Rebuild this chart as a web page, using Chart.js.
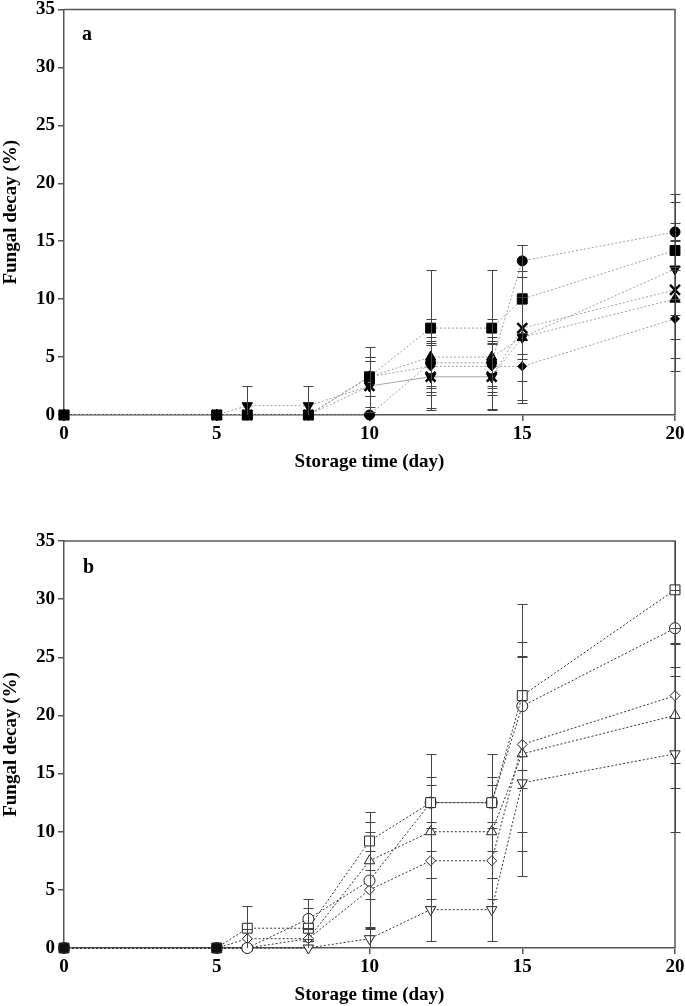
<!DOCTYPE html>
<html lang="en">
<head>
<meta charset="UTF-8">
<title>Fungal decay</title>
<script src="https://cdn.jsdelivr.net/npm/chart.js"></script>
<style>
    body {
        margin: 0;
        padding: 0;
        width: 685px;
        height: 1006px;
        overflow: hidden;
        background: #fff;
        position: relative;
        font-family: "Liberation Serif", "Times New Roman", serif;
    }
    .panel {
        position: absolute;
        left: 0;
        width: 685px;
    }
    #wrapA { top: 0; height: 473px; }
    #wrapB { top: 500px; height: 506px; }
    .tag {
        position: absolute;
        font-weight: bold;
        font-size: 20px;
        line-height: 20px;
    }
</style>
</head>
<body>

<div class="panel" id="wrapA"><canvas id="chartA"></canvas></div>
<div class="panel" id="wrapB"><canvas id="chartB"></canvas></div>
<div class="tag" style="left:82px; top:23px;">a</div>
<div class="tag" style="left:83px; top:556px;">b</div>

<script>
// storage days (shared x values)
const days = [0, 5, 6, 8, 10, 12, 14, 15, 20];
const xTicks = [0, 5, 10, 15, 20];
const yTicks = [0, 5, 10, 15, 20, 25, 30, 35];

// panel a (filled markers)
const aSquare      = [0, 0, 0,   0,   3.3, 7.5, 7.5, 10.0, 14.2];
const aSquareSd    = [0, 0, 0,   0,   2.6, 5.0, 5.0, 4.7,  4.2];
const aCircle      = [0, 0, 0,   0,   0,   4.5, 4.5, 13.3, 15.8];
const aCircleSd    = [0, 0, 0,   0,   0,   2.2, 2.2, 1.4,  3.3];
const aTriDown     = [0, 0, 0.8, 0.8, 2.5, 3.3, 3.3, 6.7,  12.6];
const aTriDownSd   = [0, 0, 1.7, 1.7, 2.2, 2.9, 2.9, 5.7,  4.0];
const aCross       = [0, 0, 0,   0,   2.5, 3.3, 3.3, 7.5,  10.8];
const aCrossSd     = [0, 0, 0,   0,   2.2, 2.7, 2.8, 2.7,  4.2];
const aTriUp       = [0, 0, 0,   0,   3.3, 5.0, 5.0, 6.7,  10.0];
const aTriUpSd     = [0, 0, 0,   0,   1.7, 3.3, 3.3, 3.8,  5.1];
const aDiamond     = [0, 0, 0,   0,   3.3, 4.2, 4.2, 4.2,  8.3];
const aDiamondSd   = [0, 0, 0,   0,   1.7, 2.2, 2.2, 2.9,  4.5];

// panel b (open markers)
const bSquare      = [0, 0, 1.7, 1.7, 9.2, 12.5, 12.5, 21.7, 30.8];
const bSquareSd    = [0, 0, 1.9, 1.7, 2.5, 4.2,  4.2,  7.9,  4.7];
const bCircle      = [0, 0, 0,   2.5, 5.8, 12.5, 12.5, 20.8, 27.5];
const bCircleSd    = [0, 0, 0,   1.7, 4.2, 2.2,  2.2,  5.5,  3.3];
const bDiamond     = [0, 0, 0.8, 0.8, 5.0, 7.5,  7.5,  17.5, 21.7];
const bDiamondSd   = [0, 0, 0.8, 0.9, 3.3, 3.3,  3.3,  7.5,  5.8];
const bTriUp       = [0, 0, 0,   0.8, 7.5, 10.0, 10.0, 16.7, 20.0];
const bTriUpSd     = [0, 0, 0,   0.8, 3.3, 4.0,  4.0,  8.4,  6.2];
const bTriDown     = [0, 0, 0,   0,   0.8, 3.3,  3.3,  14.2, 16.7];
const bTriDownSd   = [0, 0, 0,   0,   1.0, 2.7,  2.7,  8.0,  6.7];

const font = { family: '"Liberation Serif", "Times New Roman", serif', size: 19, weight: 'bold' };
const axisColor = '#555';

// vertical error bars with caps, drawn from each dataset's "errors"
const errorBars = {
    id: 'errorBars',
    afterDatasetsDraw(chart) {
        const { ctx, chartArea, scales: { x, y } } = chart;
        ctx.save();
        ctx.beginPath();
        ctx.rect(chartArea.left - 6, chartArea.top, chartArea.width + 12, chartArea.height);
        ctx.clip();
        ctx.strokeStyle = '#444';
        ctx.lineWidth = 1;
        chart.data.datasets.forEach(ds => {
            ds.data.forEach((p, i) => {
                const sd = ds.errors[i];
                if (!sd) return;
                const px = Math.round(x.getPixelForValue(p.x)) + 0.5;
                const top = Math.round(y.getPixelForValue(p.y + sd)) + 0.5;
                const bot = Math.round(y.getPixelForValue(p.y - sd)) + 0.5;
                ctx.beginPath();
                ctx.moveTo(px, top); ctx.lineTo(px, bot);
                ctx.moveTo(px - 5, top); ctx.lineTo(px + 5, top);
                ctx.moveTo(px - 5, bot); ctx.lineTo(px + 5, bot);
                ctx.stroke();
            });
        });
        ctx.restore();
    }
};

// top and right edges of the frame
const frame = {
    id: 'frame',
    beforeDatasetsDraw(chart) {
        const { ctx, chartArea: a } = chart;
        ctx.save();
        ctx.strokeStyle = axisColor;
        ctx.lineWidth = 1.5;
        ctx.beginPath();
        ctx.moveTo(a.left, a.top);
        ctx.lineTo(a.right, a.top);
        ctx.lineTo(a.right, a.bottom);
        ctx.stroke();
        ctx.restore();
    }
};

function series(values, sd, style, opts) {
    return Object.assign({
        data: values.map((v, i) => ({ x: days[i], y: v })),
        errors: sd,
        pointStyle: style,
        borderWidth: 1,
        pointBorderWidth: 1,
        tension: 0,
        clip: false
    }, opts);
}

function makeChart(id, datasets, padTop) {
    return new Chart(document.getElementById(id), {
        type: 'line',
        data: { datasets: datasets },
        options: {
            responsive: true,
            maintainAspectRatio: false,
            animation: false,
            events: [],
            layout: { padding: { top: padTop, right: 10, left: 0, bottom: 0 } },
            plugins: { legend: { display: false }, tooltip: { enabled: false } },
            scales: {
                x: {
                    type: 'linear',
                    min: 0, max: 20,
                    afterFit: s => { s.height = 58; s.paddingLeft = 0; s.paddingRight = 0; },
                    afterBuildTicks: s => { s.ticks = xTicks.map(v => ({ value: v })); },
                    grid: { drawOnChartArea: false, tickLength: 6, color: axisColor, lineWidth: 1.5 },
                    border: { color: axisColor, width: 1.5 },
                    ticks: { color: '#000', font: font, padding: 2, maxRotation: 0 },
                    title: { display: true, text: 'Storage time (day)', color: '#000', font: font, padding: 0 }
                },
                y: {
                    min: 0, max: 35,
                    afterFit: s => { s.width = 64; s.paddingTop = 0; s.paddingBottom = 0; },
                    afterBuildTicks: s => { s.ticks = yTicks.map(v => ({ value: v })); },
                    grid: { drawOnChartArea: false, tickLength: 6, color: axisColor, lineWidth: 1.5 },
                    border: { color: axisColor, width: 1.5 },
                    ticks: { color: '#000', font: font, padding: 3 },
                    title: { display: true, text: 'Fungal decay (%)', color: '#000', font: font, padding: 0 }
                }
            }
        },
        plugins: [frame, errorBars]
    });
}

const lineA = { borderColor: '#a0a0a0', borderDash: [2, 2], pointBackgroundColor: '#000', pointBorderColor: '#000' };
makeChart('chartA', [
    series(aSquare, aSquareSd, 'rect', Object.assign({ pointRadius: 7 }, lineA)),
    series(aCircle, aCircleSd, 'circle', Object.assign({ pointRadius: 5 }, lineA)),
    series(aTriDown, aTriDownSd, 'triangle', Object.assign({ pointRadius: 6, pointRotation: 180 }, lineA)),
    series(aCross, aCrossSd, 'crossRot', Object.assign({ pointRadius: 7, pointBorderWidth: 2.5 }, lineA)),
    series(aTriUp, aTriUpSd, 'triangle', Object.assign({ pointRadius: 6 }, lineA)),
    series(aDiamond, aDiamondSd, 'rectRot', Object.assign({ pointRadius: 4.5 }, lineA))
], 8);

const lineB = { borderColor: '#333', borderDash: [2, 2], pointBackgroundColor: '#fff', pointBorderColor: '#222' };
makeChart('chartB', [
    series(bSquare, bSquareSd, 'rect', Object.assign({}, lineB, {
        pointRadius: 7,
        pointBackgroundColor: c => (c.parsed && c.parsed.x <= 5) ? '#111' : '#fff'
    })),
    series(bCircle, bCircleSd, 'circle', Object.assign({ pointRadius: 5.5 }, lineB)),
    series(bDiamond, bDiamondSd, 'rectRot', Object.assign({ pointRadius: 5 }, lineB)),
    series(bTriUp, bTriUpSd, 'triangle', Object.assign({ pointRadius: 6 }, lineB)),
    series(bTriDown, bTriDownSd, 'triangle', Object.assign({ pointRadius: 6, pointRotation: 180 }, lineB))
], 41);
</script>
</body>
</html>
